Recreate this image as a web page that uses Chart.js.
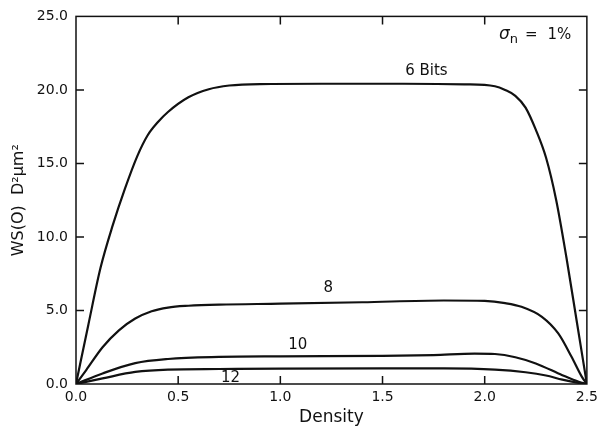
<!DOCTYPE html>
<html>
<head>
<meta charset="utf-8">
<script src="https://cdn.jsdelivr.net/npm/chart.js@4.4.1/dist/chart.umd.min.js"></script>
<style>
  html, body { margin: 0; padding: 0; background: #fff; }
  #wrap { width: 603px; height: 428px; }
</style>
</head>
<body>
<div id="wrap"><canvas id="chart"></canvas></div>
<script>
// values, density vs WS(0)
const density6 = [0, 0.06, 0.12, 0.18, 0.24, 0.3, 0.35, 0.4, 0.45, 0.55, 0.65, 0.75, 0.9, 1.2, 1.6, 1.9, 2.05, 2.1, 2.15, 2.2, 2.25, 2.3, 2.35, 2.4, 2.45, 2.5];
const ws6 = [0, 4.0, 7.9, 10.8, 13.3, 15.5, 16.9, 17.8, 18.5, 19.5, 20.05, 20.3, 20.4, 20.42, 20.42, 20.38, 20.25, 20.0, 19.6, 18.8, 17.3, 15.4, 12.5, 8.6, 4.3, 0];

const density8 = [0, 0.05, 0.13, 0.21, 0.29, 0.37, 0.45, 0.55, 0.7, 1.0, 1.4, 1.8, 2.0, 2.1, 2.18, 2.28, 2.36, 2.425, 2.475, 2.5];
const ws8 = [0, 0.95, 2.5, 3.65, 4.45, 4.95, 5.2, 5.32, 5.4, 5.46, 5.56, 5.68, 5.65, 5.5, 5.25, 4.57, 3.44, 1.85, 0.5, 0];

const density10 = [0, 0.13, 0.29, 0.45, 0.7, 1.0, 1.5, 1.75, 1.95, 2.05, 2.15, 2.25, 2.38, 2.46, 2.5];
const ws10 = [0, 0.72, 1.42, 1.7, 1.84, 1.88, 1.91, 1.97, 2.07, 2.04, 1.82, 1.4, 0.6, 0.15, 0];

const density12 = [0, 0.13, 0.29, 0.45, 0.7, 1.0, 1.5, 1.8, 2.05, 2.2, 2.3, 2.38, 2.46, 2.5];
const ws12 = [0, 0.38, 0.82, 0.98, 1.02, 1.05, 1.06, 1.06, 0.98, 0.8, 0.58, 0.3, 0.08, 0];

const seriesNames = ['6 Bits', '8', '10', '12'];
const xTicks = [0, 0.5, 1.0, 1.5, 2.0, 2.5];
const yTicks = [0, 5, 10, 15, 20, 25];

const INK = '#111';
const FONT = '"DejaVu Sans", sans-serif';

const toPoints = (xs, ys) => xs.map((x, i) => ({ x: x, y: ys[i] }));

const makeSet = (label, xs, ys) => ({
  label: label,
  data: toPoints(xs, ys),
  borderColor: INK,
  borderWidth: 2.2,
  pointRadius: 0,
  fill: false,
  cubicInterpolationMode: 'monotone',
});

// curve labels, placed in data units
const curveLabels = [
  { text: '6 Bits', x: 1.715, y: 21.25 },
  { text: '8', x: 1.235, y: 6.5 },
  { text: '10', x: 1.085, y: 2.65 },
  { text: '12', x: 0.756, y: 0.42 },
];

const frame = {
  id: 'frame',
  afterDatasetsDraw(chart) {
    const { ctx, chartArea: a, scales: { x, y } } = chart;
    ctx.save();
    ctx.strokeStyle = INK;
    ctx.lineWidth = 1.5;
    ctx.strokeRect(a.left, a.top, a.right - a.left, a.bottom - a.top);

    // inward ticks on all four sides
    const len = 8;
    ctx.beginPath();
    xTicks.slice(1, -1).forEach(v => {
      const px = x.getPixelForValue(v);
      ctx.moveTo(px, a.bottom); ctx.lineTo(px, a.bottom - len);
      ctx.moveTo(px, a.top); ctx.lineTo(px, a.top + len);
    });
    yTicks.slice(1, -1).forEach(v => {
      const py = y.getPixelForValue(v);
      ctx.moveTo(a.left, py); ctx.lineTo(a.left + len, py);
      ctx.moveTo(a.right, py); ctx.lineTo(a.right - len, py);
    });
    ctx.stroke();

    ctx.fillStyle = INK;
    ctx.textAlign = 'center';
    ctx.textBaseline = 'middle';
    ctx.font = '15px ' + FONT;
    curveLabels.forEach(l => {
      ctx.fillText(l.text, x.getPixelForValue(l.x), y.getPixelForValue(l.y));
    });

    // sigma_n = 1%
    let sx = x.getPixelForValue(2.07);
    const sy = y.getPixelForValue(23.75);
    ctx.textAlign = 'left';
    ctx.font = 'italic 17px ' + FONT;
    ctx.fillText('σ', sx, sy);
    sx += ctx.measureText('σ').width;
    ctx.font = '13px ' + FONT;
    ctx.fillText('n', sx, sy + 5);
    sx += ctx.measureText('n').width + 7;
    ctx.font = '15px ' + FONT;
    ctx.fillText('=', sx, sy);
    sx += ctx.measureText('=').width + 10;
    ctx.fillText('1%', sx, sy);
    ctx.restore();
  }
};

new Chart(document.getElementById('chart'), {
  type: 'line',
  data: {
    datasets: [
      makeSet(seriesNames[0], density6, ws6),
      makeSet(seriesNames[1], density8, ws8),
      makeSet(seriesNames[2], density10, ws10),
      makeSet(seriesNames[3], density12, ws12),
    ],
  },
  options: {
    responsive: true,
    maintainAspectRatio: false,
    animation: false,
    layout: { padding: { top: 16, right: 11, left: 0, bottom: 0 } },
    plugins: {
      legend: { display: false },
      tooltip: { enabled: false },
    },
    scales: {
      x: {
        type: 'linear',
        min: 0,
        max: 2.5,
        afterFit: (s) => { s.height = 44; },
        afterBuildTicks: (s) => { s.ticks = xTicks.map(v => ({ value: v })); },
        grid: { display: false, drawTicks: false },
        border: { display: false },
        ticks: {
          color: INK,
          padding: 5,
          font: { family: FONT, size: 14 },
          callback: (v) => Number(v).toFixed(1),
        },
        title: {
          display: true,
          text: 'Density',
          color: INK,
          font: { family: FONT, size: 17 },
          padding: { top: 0, bottom: 0 },
        },
      },
      y: {
        min: 0,
        max: 25,
        afterFit: (s) => { s.width = 76; },
        afterBuildTicks: (s) => { s.ticks = yTicks.map(v => ({ value: v })); },
        grid: { display: false, drawTicks: false },
        border: { display: false },
        ticks: {
          color: INK,
          padding: 8,
          font: { family: FONT, size: 14 },
          callback: (v) => Number(v).toFixed(1),
        },
        title: {
          display: true,
          text: 'WS(O)  D²μm²',
          color: INK,
          font: { family: FONT, size: 16 },
          padding: { top: 9, bottom: 0 },
        },
      },
    },
  },
  plugins: [frame],
});
</script>
</body>
</html>
